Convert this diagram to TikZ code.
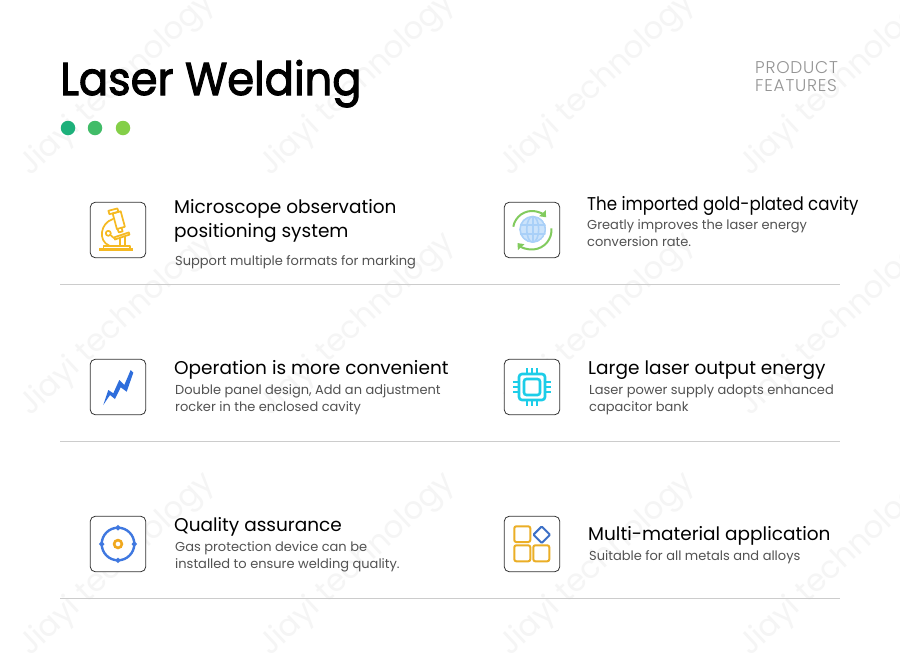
\documentclass[tikz,border=0pt]{standalone}
\usetikzlibrary{arrows.meta}
\usepackage{fontspec}
\setmainfont{Poppins}
\newfontfamily\titlefont[FakeBold=2.2,FakeStretch=0.94]{Poppins}
\newfontfamily\tightfont[FakeStretch=0.9]{Poppins}
\newfontfamily\spacedfont[LetterSpace=4.5]{Poppins Light}
\definecolor{micro}{HTML}{F5B922}
\definecolor{gring}{HTML}{82CB5E}
\definecolor{globe}{HTML}{A9D0F8}
\definecolor{bolt}{HTML}{2F6EDC}
\definecolor{chip}{HTML}{1CCDE8}
\definecolor{tblue}{HTML}{3F78E0}
\definecolor{torange}{HTML}{F0A81E}
\definecolor{mblue}{HTML}{3D70C6}
\definecolor{mgold}{HTML}{EBAE26}
\tikzset{
 iconbox/.style={draw=black!80,line width=0.8pt,rounded corners=5pt,minimum width=55.5pt,minimum height=55.5pt,inner sep=0pt,fill=white},
 headtext/.style={anchor=base west,inner sep=0pt,text=black,font=\fontsize{18.5}{24}\selectfont},
 subtext/.style={anchor=base west,inner sep=0pt,text=black!68,font=\fontsize{13}{16}\selectfont},
 wmark/.style={anchor=base west,inner sep=0pt,rotate=43,text=black!4,font=\fontsize{31}{36}\selectfont},
 divider/.style={draw=black!20,line width=0.8pt},
 dot/.style={circle,minimum size=14.5pt,inner sep=0pt},
 sidetext/.style={anchor=base west,inner sep=0pt,text=black!42,font=\spacedfont\fontsize{17}{19}\selectfont},
}
\begin{document}
\begin{tikzpicture}[x=1pt,y=-1pt]
\useasboundingbox (0,0) rectangle (900,659);
\fill[white] (0,0) rectangle (900,659);
% watermark
\foreach \r in {177,417,657}{\foreach \c in {30,270,510,750}{
  \node[wmark] at (\c,\r) {Jiayi technology};
}}
% header
\node[anchor=base west,inner sep=0pt,font=\titlefont\fontsize{46}{50}\selectfont] (title) at (60,95) {Laser Welding};
\node[sidetext] (pf1) at (755,73) {PRODUCT};
\node[sidetext] (pf2) at (755,91) {FEATURES};
\node[dot,fill={rgb,255:red,29;green,176;blue,122}] (d1) at (68,128) {};
\node[dot,fill={rgb,255:red,65;green,188;blue,104}] (d2) at (95,128) {};
\node[dot,fill={rgb,255:red,132;green,207;blue,72}] (d3) at (123,128) {};
% dividers
\draw[divider] (60,284.5) coordinate (a1) -- (840,284.5) coordinate (a2);
\draw[divider] (60,441.5) coordinate (b1) -- (840,441.5) coordinate (b2);
\draw[divider] (60,598.5) coordinate (c1) -- (840,598.5) coordinate (c2);
% boxes
\node[iconbox] (i1) at (118,230) {};
\node[iconbox] (i2) at (532,230) {};
\node[iconbox] (i3) at (118,387) {};
\node[iconbox] (i4) at (532,387) {};
\node[iconbox] (i5) at (118,544) {};
\node[iconbox] (i6) at (532,544) {};
% microscope
\begin{scope}[shift={(118,230)},draw=micro,line width=1.7pt,line join=round,line cap=round]
 \fill[micro] (-18.7,18.2) rectangle (15.3,21);
 \draw (-14.5,18) -- (-14.5,16) -- (12,16) -- (12,18);
 \draw (-5,-11) .. controls (-18,-7) and (-20,11) .. (-9,15.5);
 \draw (-9.7,3.3) circle (2.5);
 \draw (-2,-8.3) ++(-3.3,-8.2) -- ++(8,-2.2) -- ++(4.2,15.5) -- ++(-8,2.2) -- cycle;
 \draw (-9.6,-19.2) -- ++(9,-2.4) -- ++(1,3.4) -- ++(-9,2.4) -- cycle;
 \draw (-0.5,-1.2) -- ++(1.3,3.6) -- ++(3.8,-1) -- ++(-1,-3.6);
 \draw (-3,9.5) -- (11.5,4.6) -- (10.8,2.4) -- (-3.7,7.3) -- cycle;
 \draw (2,8.5) -- (2,16);
 \draw (7,7) -- (7,16);
 \draw (-7.5,5) .. controls (-5,7.5) and (-4,8) .. (-3,8.5);
\end{scope}
% globe
\begin{scope}[shift={(532,230)}]
 \begin{scope}[shift={(0.7,-0.7)},draw=globe,line width=1.6pt]
  \clip (0,0) circle (13.5);
  \fill[globe!60] (0,0) circle (13);
  \draw (0,0) circle (12.7);
  \draw (0,-13) -- (0,13);
  \draw (-13,-4.5) -- (13,-4.5);
  \draw (-13,4.5) -- (13,4.5);
  \draw (0,0) ellipse (6 and 13);
 \end{scope}
 \draw[gring,line width=2pt,-{Triangle[length=5.5pt,width=8.5pt]}] (190:19) arc[start angle=190,end angle=318,radius=19];
 \draw[gring,line width=2pt,-{Triangle[length=5.5pt,width=8.5pt]}] (-5:19.5) arc[start angle=-5,end angle=138,radius=19.5];
\end{scope}
% bolt
\begin{scope}[shift={(118,387)}]
 \fill[bolt] (-14.7,18) -- (-9.7,3) -- (-4.7,6.3) -- (1.3,-7) -- (6.3,-2) -- (12.7,-17) -- (15.3,-14.3) -- (8.7,4.7) -- (2.7,0.3) -- (-3,12) -- (-8,8) -- cycle;
\end{scope}
% chip
\begin{scope}[shift={(532,387)},draw=chip,line width=2.6pt]
 \draw[rounded corners=3pt] (-13,-13) rectangle (13,13);
 \draw[rounded corners=2.5pt] (-8,-8) rectangle (8,8);
 \foreach \p in {-5,0,5}{
  \draw[line width=2pt] (\p,-19) -- (\p,-13); \draw[line width=2pt] (\p,13) -- (\p,19);
  \draw[line width=2pt] (-19,\p) -- (-13,\p); \draw[line width=2pt] (13,\p) -- (19,\p);
 }
\end{scope}
% target
\begin{scope}[shift={(118,544)}]
 \draw[tblue,line width=2.4pt] (0,0) circle (16.3);
 \foreach \a in {0,90,180,270}{
  \fill[tblue,rotate=\a] (16.3,-2.8) -- (19.2,0) -- (16.3,2.8) -- (13.5,0) -- cycle;
 }
 \draw[torange,line width=2.6pt] (0,0) circle (3.9);
\end{scope}
% multi
\begin{scope}[shift={(532,544)},line width=2pt,rounded corners=2pt]
 \draw[mgold] (-17.7,-17.7) rectangle (-1.7,-2);
 \draw[mgold] (-17.7,1.3) rectangle (-1.7,17.3);
 \draw[mgold] (1.3,1.3) rectangle (17.3,17.3);
 \draw[mblue,rounded corners=1pt] (9.7,-17.6) -- (18,-9.3) -- (9.7,-1) -- (1.4,-9.3) -- cycle;
\end{scope}
% texts
\node[headtext] (t1a) at (174,213) {Microscope observation};
\node[headtext] (t1b) at (174,237) {positioning system};
\node[subtext] (s1) at (175,265) {Support multiple formats for marking};
\node[headtext,font=\tightfont\fontsize{18.5}{24}\selectfont] (t2) at (587,210) {The imported gold-plated cavity};
\node[subtext] (s2a) at (587,229) {Greatly improves the laser energy};
\node[subtext] (s2b) at (587,246) {conversion rate.};
\node[headtext] (t3) at (174,374) {Operation is more convenient};
\node[subtext] (s3a) at (175,394) {Double panel design, Add an adjustment};
\node[subtext] (s3b) at (175,411) {rocker in the enclosed cavity};
\node[headtext] (t4) at (588,374) {Large laser output energy};
\node[subtext] (s4a) at (589,394) {Laser power supply adopts enhanced};
\node[subtext] (s4b) at (589,411) {capacitor bank};
\node[headtext] (t5) at (174,531) {Quality assurance};
\node[subtext] (s5a) at (175,551) {Gas protection device can be};
\node[subtext] (s5b) at (175,568) {installed to ensure welding quality.};
\node[headtext] (t6) at (588,540) {Multi-material application};
\node[subtext] (s6) at (589,560) {Suitable for all metals and alloys};
\end{tikzpicture}
\end{document}
